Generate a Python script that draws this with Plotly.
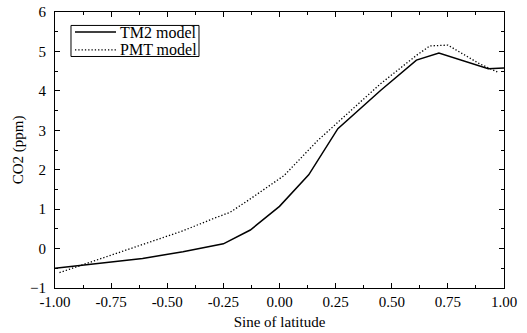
import plotly.graph_objects as go

tm2_x = [-1.0, -0.84, -0.61, -0.43, -0.25, -0.13, 0.0, 0.13, 0.26, 0.45, 0.61, 0.71, 0.93, 1.0]
tm2_y = [-0.5, -0.40, -0.25, -0.08, 0.12, 0.47, 1.07, 1.87, 3.04, 4.01, 4.78, 4.96, 4.56, 4.58]

pmt_x = [-0.98, -0.87, -0.73, -0.58, -0.43, -0.30, -0.22, -0.13, 0.02, 0.17, 0.31, 0.45, 0.61, 0.67, 0.75, 0.80, 0.89, 0.97]
pmt_y = [-0.61, -0.40, -0.13, 0.15, 0.45, 0.75, 0.92, 1.26, 1.85, 2.74, 3.46, 4.18, 4.90, 5.14, 5.16, 4.99, 4.69, 4.48]

series_names = ["TM2 model", "PMT model"]

x_ticks = [-1.0, -0.75, -0.5, -0.25, 0.0, 0.25, 0.5, 0.75, 1.0]
x_labels = ["-1.00", "-0.75", "-0.50", "-0.25", "0.00", "0.25", "0.50", "0.75", "1.00"]
y_ticks = [-1, 0, 1, 2, 3, 4, 5, 6]

FONT = "Liberation Serif, Times New Roman, serif"
SOLID = dict(color="black", width=1.5)
DOTTED = dict(color="black", width=1.3, dash="1.3px,2px")

fig = go.Figure()
fig.add_trace(go.Scatter(x=tm2_x, y=tm2_y, mode="lines", name=series_names[0],
                         line=SOLID, showlegend=False))
fig.add_trace(go.Scatter(x=pmt_x, y=pmt_y, mode="lines", name=series_names[1],
                         line=DOTTED, showlegend=False))

axis_common = dict(
    showgrid=False, zeroline=False, showline=True, linecolor="black", linewidth=1.2,
    mirror="allticks", ticks="inside", ticklen=5, tickwidth=1, tickcolor="black",
    tickfont=dict(family=FONT, size=15, color="black"), automargin=False,
)
fig.update_xaxes(range=[-1, 1], tickvals=x_ticks, ticktext=x_labels,
                 minor=dict(ticks="inside", ticklen=3, dtick=0.125, tickcolor="black"),
                 title=dict(text="Sine of latitude", font=dict(family=FONT, size=15, color="black"), standoff=7),
                 **axis_common)
fig.update_yaxes(range=[-1, 6], tickvals=y_ticks, ticklabelstandoff=5,
                 minor=dict(ticks="inside", ticklen=3, dtick=0.5, tickcolor="black"),
                 title=dict(text="CO2 (ppm)", font=dict(family=FONT, size=15, color="black"), standoff=2),
                 **axis_common)

# Legend box (compact, like the original figure)
lg_x0, lg_x1, lg_y0, lg_y1 = 0.0356, 0.3207, 0.8388, 0.9513
row_y = [0.9274, 0.8631]
sample_x0, sample_x1, text_x = 0.0445, 0.1359, 0.1403
fig.add_shape(type="rect", xref="paper", yref="paper", x0=lg_x0, x1=lg_x1, y0=lg_y0, y1=lg_y1,
              line=dict(color="black", width=1), fillcolor="white", layer="above")
for name, ry, style in zip(series_names, row_y, [SOLID, DOTTED]):
    fig.add_shape(type="line", xref="paper", yref="paper", x0=sample_x0, x1=sample_x1, y0=ry, y1=ry,
                  line=style, layer="above")
    fig.add_annotation(x=text_x, y=ry, xref="paper", yref="paper", text=name, showarrow=False,
                       xanchor="left", yanchor="middle", font=dict(family=FONT, size=16, color="black"))

fig.update_layout(
    width=527, height=333,
    margin=dict(l=55, r=23, t=12, b=45),
    paper_bgcolor="white", plot_bgcolor="white",
    font=dict(family=FONT, color="black"),
    showlegend=False,
)

fig.write_html("out.html")
